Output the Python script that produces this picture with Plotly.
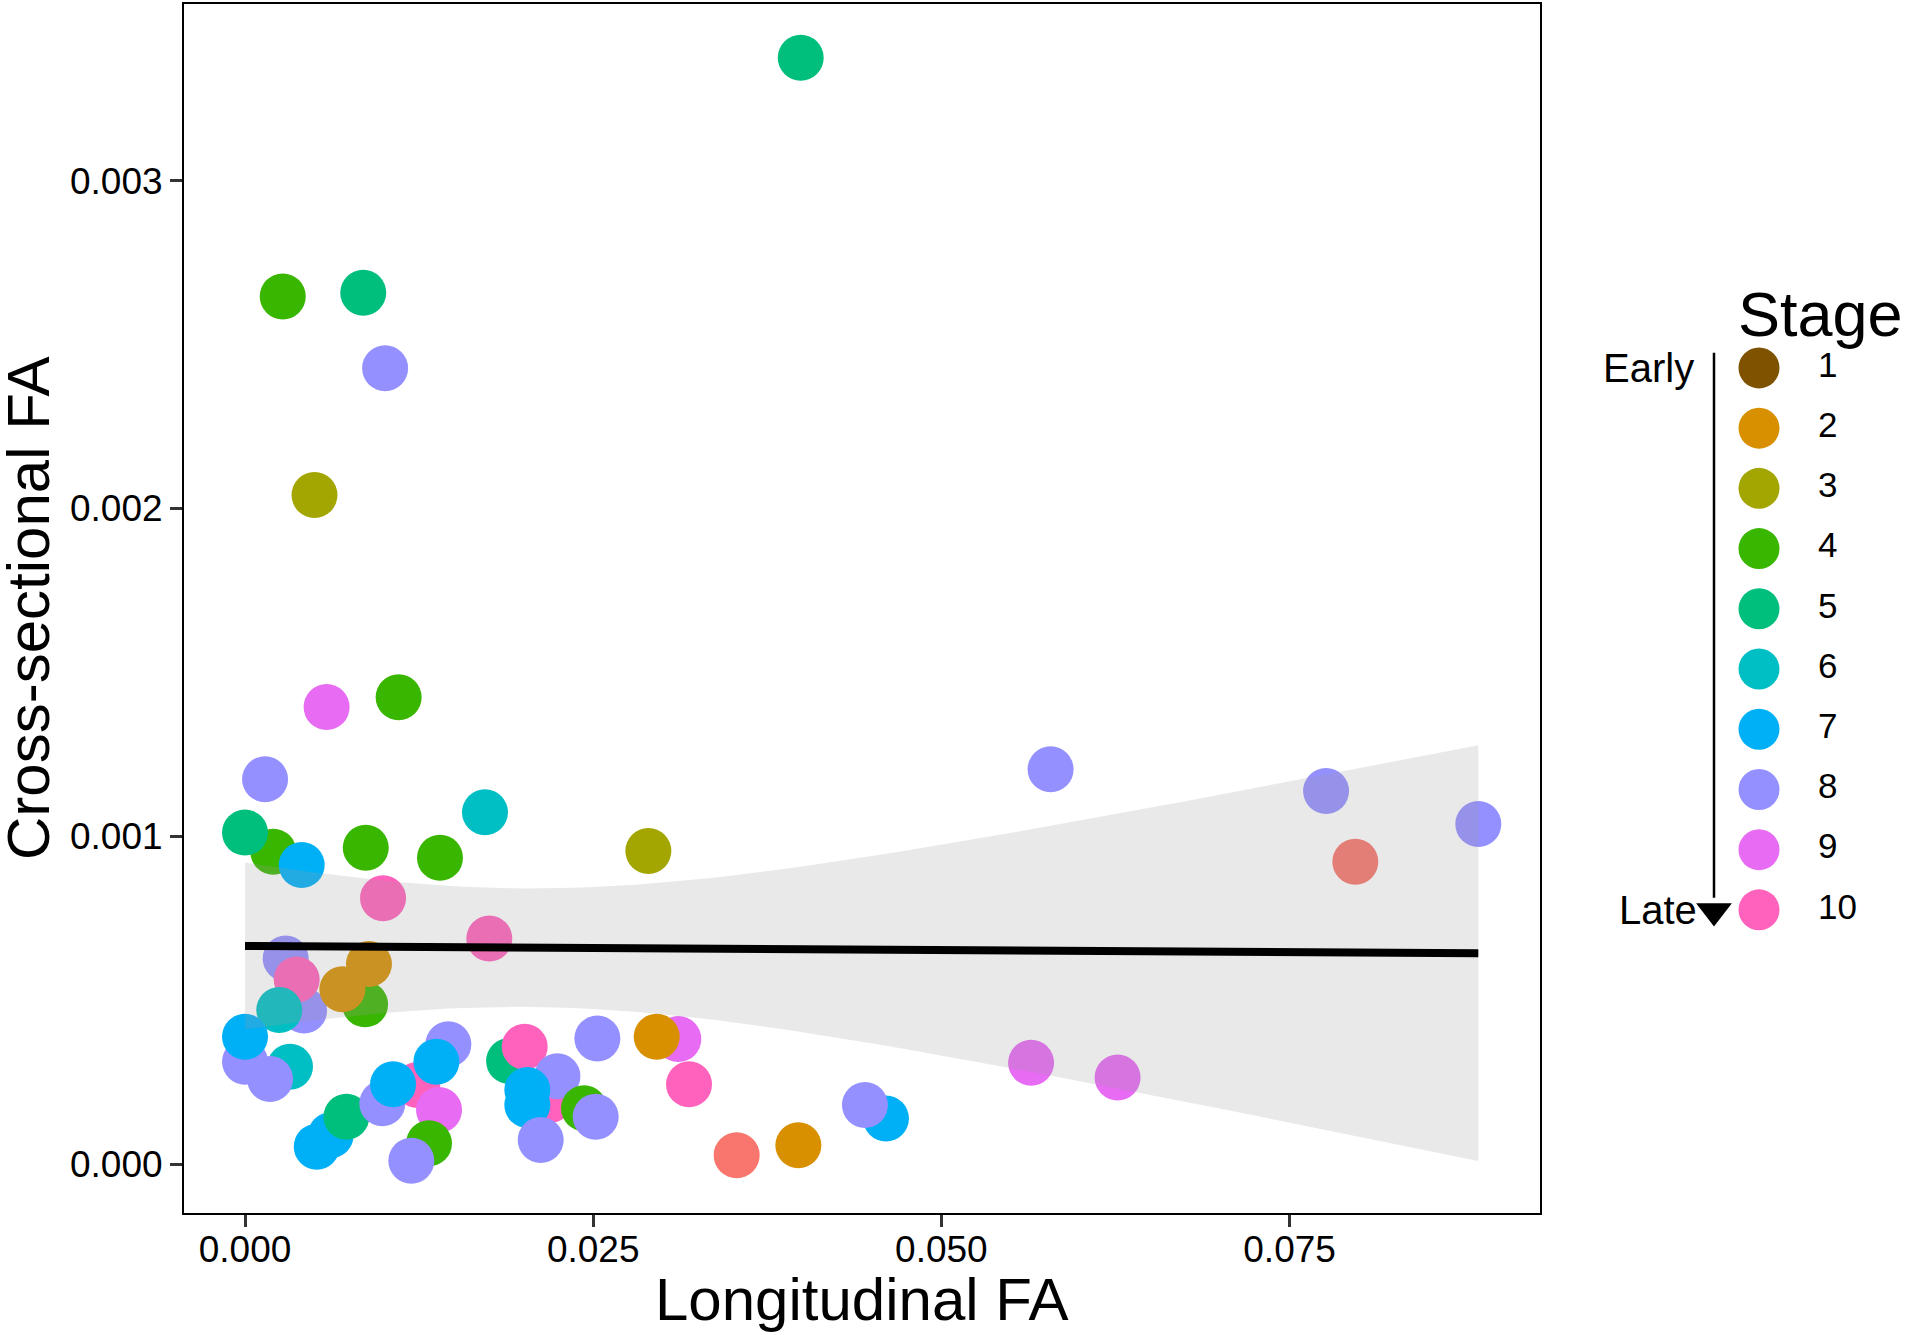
import numpy as np
import plotly.graph_objects as go

# values (Longitudinal FA, Cross-sectional FA, Stage)
# stage 0 = the two salmon points that are not in the legend
long_fa = [0.0399, 0.00271, 0.00849, 0.01006, 0.00499, 0.01103, 0.00586, 0.00144,
           0.05784, 0.07762, 0.08855, 0.07972, 0.02896, 0.01723,
           0.00203, 0.0, 0.00407, 0.00867, 0.0140, 0.00991, 0.01754,
           0.00292, 0.00424, 0.00371, 0.00246, 0.00862, 0.0089, 0.00699,
           0.0, 0.00323, 0.0, 0.0018, 0.00615, 0.00515, 0.00728, 0.00986,
           0.0146, 0.01237, 0.01393, 0.01063, 0.01374, 0.01321, 0.01194,
           0.01896, 0.02008, 0.0219, 0.02243, 0.02027, 0.02027, 0.02123,
           0.02434, 0.02518, 0.0253, 0.03111, 0.02956, 0.03188, 0.0353,
           0.03973, 0.04602, 0.04451, 0.05644, 0.06265]
cross_fa = [0.003375, 0.002647, 0.002658, 0.002428, 0.002041, 0.001424, 0.001394, 0.001174,
            0.001204, 0.001138, 0.001037, 0.000922, 0.000955, 0.001073,
            0.000953, 0.001011, 0.000912, 0.000965, 0.000934, 0.000811, 0.000688,
            0.000627, 0.000468, 0.000563, 0.00047, 0.000487, 0.00061, 0.000533,
            0.000312, 0.000297, 0.000388, 0.000259, 0.000088, 0.000053, 0.000144, 0.000185,
            0.000365, 0.000241, 0.000165, 0.000243, 0.000312, 0.000063, 0.00001,
            0.000314, 0.000358, 0.000195, 0.000268, 0.000226, 0.00018, 0.000073,
            0.00017, 0.000144, 0.000383, 0.000381, 0.000388, 0.000243, 0.000027,
            0.000057, 0.000139, 0.00018, 0.000309, 0.000264]
stage = [5, 4, 5, 8, 3, 4, 9, 8,
         8, 8, 8, 0, 3, 6,
         4, 5, 7, 4, 4, 10, 10,
         8, 8, 10, 6, 4, 2, 2,
         8, 6, 7, 8, 7, 7, 5, 8,
         8, 10, 9, 7, 7, 4, 8,
         5, 10, 10, 8, 7, 7, 8,
         4, 8, 8, 9, 2, 10, 0,
         2, 7, 8, 9, 9]

stage_levels = [1, 2, 3, 4, 5, 6, 7, 8, 9, 10]
stage_colors = {0: "#F8766D", 1: "#7F5200", 2: "#D89000", 3: "#A3A500", 4: "#39B600",
                5: "#00BF7D", 6: "#00BFC4", 7: "#00B0F6", 8: "#9590FF",
                9: "#E76BF3", 10: "#FF62BC"}

x_ticks = [0.0, 0.025, 0.05, 0.075]
y_ticks = [0.0, 0.001, 0.002, 0.003]

# linear fit with 95% band, like geom_smooth(method = "lm")
x = np.array(long_fa)
y = np.array(cross_fa)
n = len(x)
slope, icpt = np.polyfit(x, y, 1)
s = np.sqrt(np.sum((y - (icpt + slope * x)) ** 2) / (n - 2))
xg = np.linspace(x.min(), x.max(), 80)
fit = icpt + slope * xg
se = s * np.sqrt(1 / n + (xg - x.mean()) ** 2 / np.sum((x - x.mean()) ** 2))
t_crit = 2.0  # t(0.975, ~60 df)
upper = fit + t_crit * se
lower = fit - t_crit * se

FONT = "Liberation Sans, Arial, Helvetica, sans-serif"
W, H = 1911, 1335

fig = go.Figure()

fig.add_trace(go.Scatter(
    x=long_fa, y=cross_fa, mode="markers",
    marker=dict(size=46, color=[stage_colors[s_] for s_ in stage], line=dict(width=0)),
    showlegend=False, hoverinfo="x+y"))

fig.add_trace(go.Scatter(
    x=np.concatenate([xg, xg[::-1]]), y=np.concatenate([upper, lower[::-1]]),
    fill="toself", fillcolor="rgba(153,153,153,0.22)", line=dict(width=0),
    mode="lines", showlegend=False, hoverinfo="skip"))

fig.add_trace(go.Scatter(
    x=xg, y=fit, mode="lines", line=dict(color="black", width=8),
    showlegend=False, hoverinfo="skip"))

# hand-made legend on its own axes (x2 in pixels, y2 in stage rows)
fig.add_trace(go.Scatter(
    x=[1714, 1714], y=[0.75, 9.8], xaxis="x2", yaxis="y2", mode="lines",
    line=dict(color="black", width=2.5), showlegend=False, hoverinfo="skip"))
fig.add_trace(go.Scatter(
    x=[1714], y=[10.02], xaxis="x2", yaxis="y2", mode="markers",
    marker=dict(symbol="triangle-down", size=31, color="black"),
    showlegend=False, hoverinfo="skip"))
fig.add_trace(go.Scatter(
    x=[1759] * len(stage_levels), y=stage_levels, xaxis="x2", yaxis="y2",
    mode="markers", marker=dict(size=41, color=[stage_colors[k] for k in stage_levels]),
    showlegend=False, hoverinfo="skip"))
fig.add_trace(go.Scatter(
    x=[1818] * len(stage_levels), y=stage_levels, xaxis="x2", yaxis="y2",
    mode="text", text=[str(k) for k in stage_levels], textposition="middle right",
    textfont=dict(size=35, color="black", family=FONT),
    showlegend=False, hoverinfo="skip"))

x_dom = [184 / W, 1540 / W]
y_dom = [(H - 1213) / H, (H - 4) / H]

fig.update_layout(
    width=W, height=H,
    margin=dict(l=0, r=0, t=0, b=0),
    paper_bgcolor="white", plot_bgcolor="white",
    font=dict(family=FONT, color="black"),
    xaxis=dict(domain=x_dom, range=[-0.00438, 0.09298], tickvals=x_ticks, tickformat=".3f",
               showgrid=False, zeroline=False, showline=True, mirror=True,
               linecolor="black", linewidth=2, ticks="outside", ticklen=12, tickwidth=3,
               tickcolor="#333333", tickfont=dict(size=37, color="black"),
               ticklabelstandoff=-9),
    yaxis=dict(domain=y_dom, range=[-0.0001495, 0.003539], tickvals=y_ticks, tickformat=".3f",
               showgrid=False, zeroline=False, showline=True, mirror=True,
               linecolor="black", linewidth=2, ticks="outside", ticklen=12, tickwidth=3,
               tickcolor="#333333", tickfont=dict(size=37, color="black"),
               ticklabelstandoff=0),
    xaxis2=dict(domain=[1540 / W, 1.0], range=[1540, W], anchor="y2", visible=False),
    yaxis2=dict(domain=[0, 1], range=[17.06, -5.11], anchor="x2", visible=False),
    annotations=[
        dict(text="Longitudinal FA", xref="paper", yref="paper", x=862 / W, y=(H - 1299) / H,
             xanchor="center", yanchor="middle", showarrow=False, font=dict(size=60)),
        dict(text="Cross-sectional FA", xref="paper", yref="paper", x=28 / W, y=(H - 608) / H,
             xanchor="center", yanchor="middle", textangle=-90, showarrow=False,
             font=dict(size=60)),
        dict(text="Stage", xref="x2", yref="y2", x=1736, y=0.1, xanchor="left",
             yanchor="middle", showarrow=False, font=dict(size=63)),
        dict(text="Early", xref="x2", yref="y2", x=1696, y=1, xanchor="right",
             yanchor="middle", showarrow=False, font=dict(size=40)),
        dict(text="Late", xref="x2", yref="y2", x=1699, y=10, xanchor="right",
             yanchor="middle", showarrow=False, font=dict(size=40)),
    ],
)

# the page's default body margin would push the figure 8px off the window
fig.write_html("out.html", config={"displayModeBar": False},
               post_script="document.body.style.margin = '0px';")
